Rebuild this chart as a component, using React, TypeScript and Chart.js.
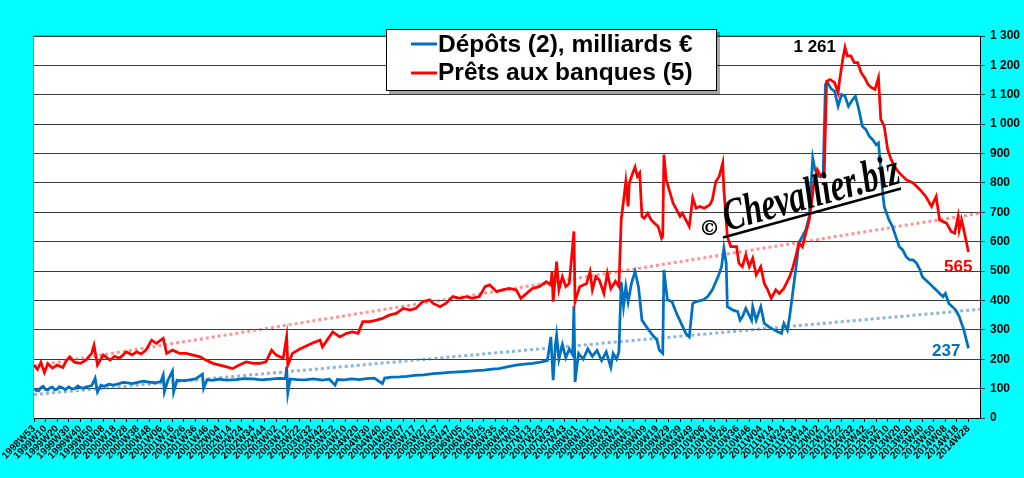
import React, { useEffect, useRef } from 'react';
import { Chart, registerables } from 'chart.js';

Chart.register(...registerables);

// Tick labels (every 10 weeks, week index 0 = 1998W53)
const weekLabels: string[] = [
  '1998W53','1999W10','1999W20','1999W30','1999W40','1999W50','2000W08','2000W18','2000W28','2000W38','2000W48',
  '2001W06','2001W16','2001W26','2001W36','2001W46','2002W04','2002W14','2002W24','2002W34','2002W44',
  '2003W02','2003W12','2003W22','2003W32','2003W42','2003W52','2004W10','2004W20','2004W30','2004W40','2004W50',
  '2005W07','2005W17','2005W27','2005W37','2005W47','2006W05','2006W15','2006W25','2006W35','2006W45',
  '2007W03','2007W13','2007W23','2007W33','2007W43','2008W01','2008W11','2008W21','2008W31','2008W41','2008W51',
  '2009W09','2009W19','2009W29','2009W39','2009W49','2010W06','2010W16','2010W26','2010W36','2010W46',
  '2011W04','2011W14','2011W24','2011W34','2011W44','2012W02','2012W12','2012W22','2012W32','2012W42','2012W52',
  '2013W10','2013W20','2013W30','2013W40','2013W50','2014W08','2014W18','2014W28'
];

// [week index, value] — Dépôts (2), milliards €
const depots: [number, number][] = [
  [0,100],[2,94],[4,92],[6,104],[8,108],[10,97],[12,95],[14,103],[16,105],[18,96],[20,98],[22,107],[25,102],[27,96],
  [30,106],[33,99],[35,100],[38,109],[40,104],[43,101],[45,106],[48,108],[50,110],[53,135],[55,89],[58,112],[61,108],
  [65,115],[69,112],[74,117],[77,121],[80,120],[85,117],[90,121],[95,125],[100,122],[105,120],[110,124],[112,146],
  [113,89],[116,128],[120,160],[121,89],[124,129],[130,127],[135,130],[140,133],[146,149],[147,101],[150,130],
  [155,128],[160,132],[167,129],[175,131],[182,134],[190,133],[197,130],[205,132],[212,135],[218,134],[219,174],
  [220,85],[222,133],[228,131],[235,130],[242,133],[250,129],[256,132],[261,112],[263,131],[269,130],[275,133],
  [282,131],[288,134],[295,136],[302,117],[304,136],[310,139],[317,140],[323,142],[330,145],[338,147],[346,151],
  [353,153],[360,155],[368,157],[375,159],[383,161],[390,163],[397,166],[403,168],[410,174],[418,180],[425,183],
  [432,186],[439,190],[445,195],[448,276],[450,129],[452,250],[453,282],[455,200],[458,250],[461,205],[464,235],
  [467,215],[468,381],[469,123],[472,220],[476,200],[480,235],[484,210],[488,230],[492,195],[496,225],[500,172],
  [502,220],[505,200],[507,225],[509,463],[511,380],[513,447],[515,395],[518,460],[521,498],[524,446],[527,333],
  [531,310],[535,288],[540,265],[542,231],[545,220],[546,504],[549,402],[553,396],[557,356],[561,322],[565,288],
  [568,276],[571,390],[574,396],[580,402],[584,413],[588,436],[593,481],[596,515],[598,578],[600,527],[601,379],
  [606,367],[610,362],[612,333],[614,344],[617,373],[622,333],[623,379],[626,333],[630,379],[633,322],[637,310],
  [642,299],[645,293],[648,288],[650,322],[653,299],[655,345],[658,436],[661,527],[663,595],[666,618],[669,640],
  [672,686],[673,754],[675,885],[677,845],[680,822],[684,822],[686,1135],[688,1141],[691,1120],[694,1112],
  [697,1061],[700,1101],[703,1095],[706,1061],[709,1080],[712,1095],[715,1050],[718,993],[721,982],[724,959],
  [727,947],[730,930],[732,936],[733,890],[736,754],[737,720],[741,675],[744,652],[747,618],[750,583],[753,572],
  [756,549],[759,538],[762,538],[765,527],[768,504],[770,481],[773,470],[776,459],[779,447],[782,436],[785,424],
  [788,413],[790,424],[793,390],[796,379],[799,367],[802,345],[804,322],[806,300],[810,237]
];

// [week index, value] — Prêts aux banques (5)
const prets: [number, number][] = [
  [0,180],[3,165],[6,190],[9,155],[12,185],[16,170],[20,180],[25,172],[28,195],[31,208],[35,190],[40,186],[45,197],
  [50,220],[52,248],[55,180],[60,214],[66,197],[70,210],[74,203],[80,225],[85,215],[89,225],[93,218],[97,231],
  [102,265],[106,254],[112,271],[115,220],[120,231],[126,220],[132,220],[138,214],[144,208],[149,197],[155,186],
  [161,180],[167,174],[172,168],[178,180],[184,191],[190,186],[196,186],[201,191],[206,231],[210,214],[216,203],
  [219,276],[220,180],[224,220],[230,234],[236,245],[242,256],[248,265],[250,242],[256,276],[259,293],[265,276],
  [271,288],[276,293],[281,288],[285,328],[291,328],[297,333],[302,339],[308,350],[314,356],[320,373],[326,367],
  [331,373],[337,396],[343,402],[346,390],[352,379],[357,390],[363,413],[369,407],[375,413],[380,407],[386,413],
  [391,447],[395,453],[401,430],[406,436],[412,441],[418,436],[422,407],[427,424],[432,441],[438,447],[444,464],
  [448,453],[449,498],[450,396],[453,532],[455,436],[458,481],[461,447],[464,458],[468,635],[469,396],[473,447],
  [479,458],[482,498],[484,436],[487,481],[490,470],[494,424],[497,493],[500,440],[504,465],[507,447],[509,674],
  [512,771],[513,805],[515,720],[516,800],[519,834],[521,854],[523,822],[525,834],[527,686],[529,680],[532,697],
  [535,674],[538,663],[541,652],[544,612],[545,618],[546,896],[548,811],[551,771],[554,731],[557,709],[560,686],
  [562,697],[565,674],[568,652],[571,749],[574,714],[577,720],[581,714],[586,726],[588,743],[591,805],[594,822],
  [597,868],[598,777],[601,618],[604,583],[609,583],[611,527],[614,515],[617,555],[620,515],[623,544],[626,487],
  [630,515],[633,458],[636,436],[639,407],[643,436],[646,424],[650,441],[655,481],[658,515],[661,561],[663,595],
  [666,583],[669,629],[672,674],[675,765],[676,800],[679,845],[682,822],[685,834],[687,1146],[690,1152],[694,1141],
  [697,1107],[698,1141],[701,1220],[703,1261],[705,1232],[708,1232],[711,1209],[714,1209],[717,1175],[720,1158],
  [723,1135],[726,1124],[729,1118],[732,1158],[734,1016],[737,993],[740,913],[743,879],[746,856],[750,834],
  [756,811],[762,800],[768,777],[773,754],[778,720],[782,754],[785,674],[791,663],[795,635],[798,629],[801,686],
  [802,640],[804,674],[806,640],[810,565]
];

// Linear trend lines (start/end values)
const depotsTrend: [number, number][] = [[0, 80], [820, 370]];
const pretsTrend: [number, number][] = [[0, 177], [820, 697]];

const legendTexts = ['Dépôts (2), milliards €', 'Prêts aux banques (5)'];
const watermark = 'Chevallier.biz';

const BLUE = '#0070C0';
const RED = '#FF0000';

const fmt = (v: number) => {
  if (v >= 1000) return `${Math.floor(v / 1000)} ${String(v % 1000).padStart(3, '0')}`;
  return String(v);
};

const toXY = (arr: [number, number][]) => arr.map(([x, y]) => ({ x, y }));

const plotBg = {
  id: 'plotBg',
  beforeDraw(chart: any) {
    const { ctx, chartArea } = chart;
    const { left, top, right, bottom } = chartArea;
    ctx.save();
    ctx.fillStyle = '#FFFFFF';
    ctx.fillRect(left, top, right - left, bottom - top);
    ctx.strokeStyle = '#8c8c8c';
    ctx.lineWidth = 1;
    ctx.strokeRect(Math.round(left) - 0.5, Math.round(top) - 0.5, right - left + 1, bottom - top + 1);
    ctx.restore();
  },
};

const overlay = {
  id: 'overlay',
  afterDatasetsDraw(chart: any) {
    const { ctx, scales } = chart;
    const xs = scales.x;
    const ys = scales.y;
    ctx.save();
    // peak annotation
    let peak = prets[0];
    for (const p of prets) if (p[1] > peak[1]) peak = p;
    ctx.font = 'bold 17px "Liberation Sans", Arial, sans-serif';
    ctx.textAlign = 'right';
    ctx.textBaseline = 'alphabetic';
    ctx.fillStyle = '#000';
    ctx.fillText(fmt(peak[1]), xs.getPixelForValue(peak[0]) - 9, ys.getPixelForValue(peak[1]) + 5);
    // end values
    const lastP = prets[prets.length - 1];
    ctx.fillStyle = RED;
    ctx.fillText(fmt(lastP[1]), xs.getPixelForValue(lastP[0]) + 4, ys.getPixelForValue(lastP[1]) + 20);
    const lastD = depots[depots.length - 1];
    ctx.fillStyle = BLUE;
    ctx.fillText(fmt(lastD[1]), xs.getPixelForValue(lastD[0]) - 8, ys.getPixelForValue(lastD[1]) + 8);

    // watermark
    ctx.fillStyle = '#000';
    ctx.textAlign = 'left';
    ctx.font = 'bold 21px "DejaVu Serif", serif';
    ctx.fillText('©', 699, 235);
    ctx.save();
    ctx.translate(727, 231);
    ctx.rotate((-15.4 * Math.PI) / 180);
    ctx.scale(0.92, 1.3);
    ctx.font = 'italic bold 35px "Liberation Serif", serif';
    ctx.fillText(watermark, 0, 0);
    ctx.restore();
    ctx.strokeStyle = '#000';
    ctx.lineWidth = 2.5;
    ctx.beginPath();
    ctx.moveTo(723, 237.5);
    ctx.lineTo(901, 188.5);
    ctx.stroke();
    ctx.restore();
  },
  afterDraw(chart: any) {
    const { ctx } = chart;
    ctx.save();
    // legend box
    ctx.fillStyle = 'rgba(0,0,0,0.35)';
    ctx.fillRect(389, 32, 331, 62);
    ctx.fillStyle = '#FFFFFF';
    ctx.fillRect(386, 29, 331, 62);
    ctx.strokeStyle = '#000';
    ctx.lineWidth = 1;
    ctx.strokeRect(386.5, 29.5, 330, 61);
    ctx.lineWidth = 3;
    ctx.strokeStyle = BLUE;
    ctx.beginPath();
    ctx.moveTo(411, 44);
    ctx.lineTo(437, 44);
    ctx.stroke();
    ctx.strokeStyle = RED;
    ctx.beginPath();
    ctx.moveTo(411, 73);
    ctx.lineTo(437, 73);
    ctx.stroke();
    ctx.fillStyle = '#000';
    ctx.font = 'bold 24.5px "Liberation Sans", Arial, sans-serif';
    ctx.textAlign = 'left';
    ctx.textBaseline = 'alphabetic';
    ctx.fillText(legendTexts[0], 438, 52);
    ctx.fillText(legendTexts[1], 438, 80);
    ctx.restore();
  },
};

export default function App() {
  const ref = useRef<HTMLCanvasElement | null>(null);

  useEffect(() => {
    if (!ref.current) return;
    const chart = new Chart(ref.current, {
      type: 'line',
      data: {
        datasets: [
          {
            label: legendTexts[1],
            data: toXY(prets),
            borderColor: RED,
            borderWidth: 2.75,
            pointRadius: 0,
            tension: 0,
            order: 0,
          },
          {
            label: legendTexts[0],
            data: toXY(depots),
            borderColor: BLUE,
            borderWidth: 2.75,
            pointRadius: 0,
            tension: 0,
            order: 1,
          },
          {
            label: 'trend prets',
            data: toXY(pretsTrend),
            borderColor: 'rgba(255,60,60,0.55)',
            borderWidth: 3,
            borderDash: [3, 3],
            borderCapStyle: 'butt',
            pointRadius: 0,
            order: 2,
          },
          {
            label: 'trend depots',
            data: toXY(depotsTrend),
            borderColor: 'rgba(40,120,200,0.55)',
            borderWidth: 3,
            borderDash: [3, 3],
            borderCapStyle: 'butt',
            pointRadius: 0,
            order: 2,
          },
        ],
      },
      options: {
        responsive: false,
        animation: false,
        events: [],
        layout: { padding: { left: 34, top: 36, right: 0, bottom: 0 } },
        plugins: { legend: { display: false }, tooltip: { enabled: false } },
        scales: {
          x: {
            type: 'linear',
            min: 0,
            max: 820,
            afterBuildTicks: (scale: any) => {
              scale.ticks = weekLabels.map((_, i) => ({ value: i * 10 }));
            },
            afterFit: (scale: any) => {
              scale.height = 60;
            },
            ticks: {
              autoSkip: false,
              minRotation: 45,
              maxRotation: 45,
              padding: 1,
              color: '#000',
              font: { family: '"Liberation Sans", Arial, sans-serif', size: 10, weight: 'bold' },
              callback: (v: any) => weekLabels[Math.round(Number(v) / 10)] ?? '',
            },
            grid: { drawOnChartArea: false, drawTicks: true, tickLength: 4, color: '#000' },
            border: { display: true, color: '#000', width: 1 },
          },
          y: {
            position: 'right',
            min: 0,
            max: 1300,
            afterFit: (scale: any) => {
              scale.width = 44;
            },
            ticks: {
              stepSize: 100,
              color: '#000',
              padding: 5,
              font: { family: '"Liberation Sans", Arial, sans-serif', size: 12, weight: 'bold' },
              callback: (v: any) => fmt(Number(v)),
            },
            grid: { color: '#3a3a3a', tickLength: 5, lineWidth: 1 },
            border: { display: true, color: '#000', width: 1 },
          },
        },
      },
      plugins: [plotBg, overlay],
    } as any);
    return () => chart.destroy();
  }, []);

  return (
    <div
      style={{
        position: 'fixed',
        left: 0,
        top: 0,
        width: 1024,
        height: 478,
        background: '#00FFFF',
        overflow: 'hidden',
      }}
    >
      <canvas ref={ref} width={1024} height={478} style={{ display: 'block' }} />
    </div>
  );
}
